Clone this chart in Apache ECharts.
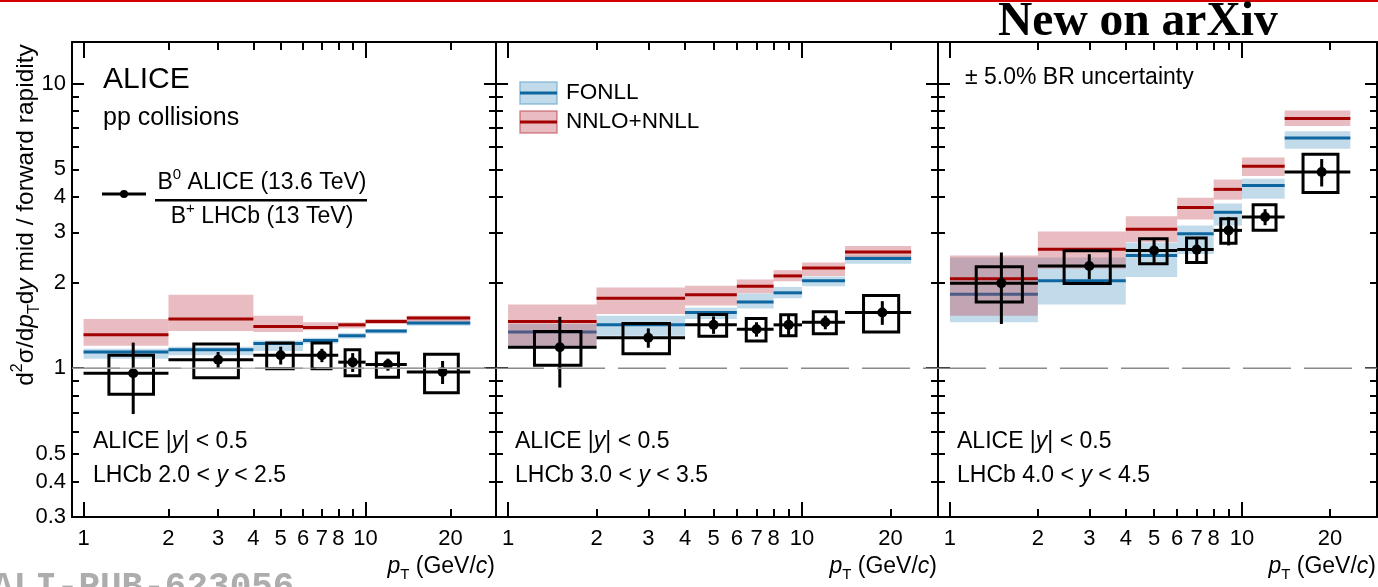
<!DOCTYPE html>
<html><head><meta charset="utf-8">
<script src="https://cdn.jsdelivr.net/npm/echarts@6/dist/echarts.min.js"></script>
<style>html,body{margin:0;padding:0;background:#fff}#c{width:1378px;height:587px}</style>
</head><body><div id="c"></div>
<script>
// ---- bins ----
const binLo = [1, 2, 4, 6, 8, 10, 14];
const binHi = [2, 4, 6, 8, 10, 14, 23.5];
const ptCenter = [1.5, 3, 5, 7, 9, 12, 18.75];

// ---- panel 1: LHCb 2.0 < y < 2.5 ----
const ratio1 = [0.96, 1.07, 1.11, 1.11, 1.05, 1.03, 0.97];
const stat1 = [0.27, 0.07, 0.08, 0.06, 0.08, 0.05, 0.09];
const syst1 = [0.15, 0.145, 0.115, 0.115, 0.11, 0.10, 0.15];
const fonll1 = [1.14, 1.16, 1.22, 1.25, 1.30, 1.35, 1.44];
const fonll1Lo = [1.08, 1.11, 1.15, 1.22, 1.27, 1.32, 1.41];
const fonll1Hi = [1.17, 1.19, 1.25, 1.28, 1.33, 1.37, 1.47];
const nnlo1 = [1.31, 1.49, 1.40, 1.39, 1.42, 1.46, 1.50];
const nnlo1Lo = [1.20, 1.35, 1.34, 1.36, 1.38, 1.43, 1.46];
const nnlo1Hi = [1.49, 1.81, 1.53, 1.45, 1.45, 1.49, 1.53];

// ---- panel 2: LHCb 3.0 < y < 3.5 ----
const ratio2 = [1.185, 1.28, 1.42, 1.37, 1.42, 1.45, 1.57];
const stat2 = [0.33, 0.10, 0.10, 0.08, 0.12, 0.08, 0.15];
const syst2 = [0.16, 0.155, 0.125, 0.125, 0.12, 0.13, 0.23];
const fonll2 = [1.34, 1.42, 1.57, 1.71, 1.84, 2.03, 2.43];
const fonll2Lo = [1.17, 1.30, 1.49, 1.62, 1.76, 1.94, 2.33];
const fonll2Hi = [1.43, 1.53, 1.63, 1.83, 1.93, 2.10, 2.49];
const nnlo2 = [1.46, 1.76, 1.81, 1.94, 2.11, 2.25, 2.56];
const nnlo2Lo = [1.20, 1.55, 1.66, 1.835, 2.02, 2.11, 2.46];
const nnlo2Hi = [1.675, 1.92, 1.95, 2.05, 2.21, 2.35, 2.69];

// ---- panel 3: LHCb 4.0 < y < 4.5 ----
const ratio3 = [1.99, 2.285, 2.59, 2.61, 3.05, 3.40, 4.89];
const stat3 = [0.56, 0.23, 0.28, 0.25, 0.35, 0.22, 0.54];
const syst3 = [0.28, 0.30, 0.26, 0.26, 0.30, 0.35, 0.75];
const fonll3 = [1.82, 2.03, 2.49, 2.97, 3.53, 4.38, 6.44];
const fonll3Lo = [1.45, 1.675, 2.09, 2.52, 3.17, 3.94, 5.9];
const fonll3Hi = [2.45, 2.45, 2.76, 3.17, 3.79, 4.63, 6.8];
const nnlo3 = [2.06, 2.62, 3.08, 3.67, 4.25, 5.12, 7.54];
const nnlo3Lo = [1.53, 2.24, 2.77, 3.33, 3.91, 4.73, 7.1];
const nnlo3Hi = [2.49, 3.02, 3.42, 3.97, 4.6, 5.5, 8.05];

// ---- ticks ----
const xTickMajor = [1, 10];
const xTickMinor = [2, 3, 4, 5, 6, 7, 8, 9, 20];
const xTickLabels = [1, 2, 3, 4, 5, 6, 7, 8, 10, 20];
const yTickMajor = [1, 10];
const yTickMinor = [0.3, 0.4, 0.5, 0.6, 0.7, 0.8, 0.9, 2, 3, 4, 5, 6, 7, 8, 9];
const yTickLabels = [0.3, 0.4, 0.5, 1, 2, 3, 4, 5, 10];
const refValue = 1;

const X_MIN = 0.91, X_MAX = 29, Y_MIN = 0.3, Y_MAX = 14;
const FONT = '"Liberation Sans", Arial, Helvetica, sans-serif';
const BLUE = '#0d66a0', RED = '#a30000';
const BLUE_BAND = 'rgba(115,172,210,0.44)', RED_BAND = 'rgba(190,70,80,0.36)';

const panels = [
  {ratio: ratio1, stat: stat1, syst: syst1, f: fonll1, fLo: fonll1Lo, fHi: fonll1Hi, n: nnlo1, nLo: nnlo1Lo, nHi: nnlo1Hi},
  {ratio: ratio2, stat: stat2, syst: syst2, f: fonll2, fLo: fonll2Lo, fHi: fonll2Hi, n: nnlo2, nLo: nnlo2Lo, nHi: nnlo2Hi},
  {ratio: ratio3, stat: stat3, syst: syst3, f: fonll3, fLo: fonll3Lo, fHi: fonll3Hi, n: nnlo3, nLo: nnlo3Lo, nHi: nnlo3Hi}
];

const grids = [
  {left: 72, top: 42, width: 424, height: 475},
  {left: 496, top: 42, width: 442, height: 475},
  {left: 938, top: 42, width: 439, height: 475}
];

const tickStyle = {color: '#000', width: 2};
const xAxis = [], yAxis = [];
grids.forEach((g, i) => {
  const bx = {type: 'log', logBase: 10, min: X_MIN, max: X_MAX, gridIndex: i, splitLine: {show: false}};
  const by = {type: 'log', logBase: 10, min: Y_MIN, max: Y_MAX, gridIndex: i, splitLine: {show: false}};
  const line = {show: true, onZero: false, lineStyle: {color: '#000', width: 2}};
  xAxis.push(Object.assign({}, bx, {position: 'bottom', axisLine: line,
    axisTick: {show: true, inside: true, length: 15, customValues: xTickMajor, lineStyle: tickStyle},
    axisLabel: {show: true, customValues: xTickLabels, formatter: v => String(Math.round(v)), color: '#000', fontSize: 22, fontFamily: FONT, margin: 11}}));
  xAxis.push(Object.assign({}, bx, {position: 'bottom', axisLine: {show: false},
    axisTick: {show: true, inside: true, length: 8, customValues: xTickMinor, lineStyle: tickStyle}, axisLabel: {show: false}}));
  xAxis.push(Object.assign({}, bx, {position: 'top', axisLine: line,
    axisTick: {show: true, inside: true, length: 16, customValues: xTickMajor, lineStyle: tickStyle}, axisLabel: {show: false}}));
  xAxis.push(Object.assign({}, bx, {position: 'top', axisLine: {show: false},
    axisTick: {show: true, inside: true, length: 8, customValues: xTickMinor, lineStyle: tickStyle}, axisLabel: {show: false}}));

  yAxis.push(Object.assign({}, by, {position: 'left', axisLine: line,
    axisTick: {show: true, inside: true, length: 12, customValues: yTickMajor, lineStyle: tickStyle},
    axisLabel: {show: i === 0, customValues: yTickLabels, formatter: v => String(+v.toPrecision(2)), color: '#000', fontSize: 22, fontFamily: FONT, margin: 6}}));
  yAxis.push(Object.assign({}, by, {position: 'left', axisLine: {show: false},
    axisTick: {show: true, inside: true, length: 7, customValues: yTickMinor, lineStyle: tickStyle}, axisLabel: {show: false}}));
  yAxis.push(Object.assign({}, by, {position: 'right', axisLine: line,
    axisTick: {show: true, inside: true, length: 12, customValues: yTickMajor, lineStyle: tickStyle}, axisLabel: {show: false}}));
  yAxis.push(Object.assign({}, by, {position: 'right', axisLine: {show: false},
    axisTick: {show: true, inside: true, length: 7, customValues: yTickMinor, lineStyle: tickStyle}, axisLabel: {show: false}}));
});

function bandRender(color) {
  return function (params, api) {
    const p0 = api.coord([api.value(0), api.value(3)]);
    const p1 = api.coord([api.value(1), api.value(2)]);
    return {type: 'rect', shape: {x: p0[0], y: p0[1], width: p1[0] - p0[0], height: p1[1] - p0[1]}, style: {fill: color}};
  };
}
function stepRender(color) {
  return function (params, api) {
    const p0 = api.coord([api.value(0), api.value(2)]);
    const p1 = api.coord([api.value(1), api.value(2)]);
    return {type: 'line', shape: {x1: p0[0], y1: p0[1], x2: p1[0], y2: p1[1]}, style: {stroke: color, lineWidth: 3}};
  };
}
function dataRender(params, api) {
  const c = api.value(0), lo = api.value(1), hi = api.value(2), v = api.value(3), st = api.value(4), sy = api.value(5);
  const bw = 0.27 * (hi - lo);
  const pL = api.coord([lo, v]), pR = api.coord([hi, v]), pC = api.coord([c, v]);
  const s1 = api.coord([c, v + st]), s2 = api.coord([c, v - st]);
  const b1 = api.coord([c - bw, v + sy]), b2 = api.coord([c + bw, v - sy]);
  return {type: 'group', children: [
    {type: 'rect', shape: {x: b1[0], y: b1[1], width: b2[0] - b1[0], height: b2[1] - b1[1]}, style: {fill: 'none', stroke: '#000', lineWidth: 3}},
    {type: 'line', shape: {x1: pL[0], y1: pL[1], x2: pR[0], y2: pR[1]}, style: {stroke: '#000', lineWidth: 3}},
    {type: 'line', shape: {x1: s1[0], y1: s1[1], x2: s2[0], y2: s2[1]}, style: {stroke: '#000', lineWidth: 3}},
    {type: 'circle', shape: {cx: pC[0], cy: pC[1], r: 5}, style: {fill: '#000'}}
  ]};
}

const series = [];
panels.forEach((p, i) => {
  const xi = 4 * i, yi = 4 * i;
  const common = {type: 'custom', xAxisIndex: xi, yAxisIndex: yi, silent: true, animation: false};
  const bandData = (lo, hi) => binLo.map((b, k) => [b, binHi[k], lo[k], hi[k]]);
  const stepData = (v) => binLo.map((b, k) => [b, binHi[k], v[k]]);
  series.push({type: 'line', xAxisIndex: xi, yAxisIndex: yi, silent: true, animation: false, symbol: 'none',
    data: [[X_MIN, refValue], [X_MAX, refValue]], lineStyle: {color: '#8a8a8a', width: 1.6, type: [48, 13]}});
  if (i === 0) {
    series.push({type: 'line', xAxisIndex: xi, yAxisIndex: yi, silent: true, animation: false, symbol: 'none',
      data: [[X_MIN, refValue], [X_MAX, refValue]], lineStyle: {color: '#a0a0a0', width: 1}});
  }
  series.push(Object.assign({}, common, {name: 'FONLL band', renderItem: bandRender(BLUE_BAND), encode: {x: [0, 1], y: [2, 3]}, data: bandData(p.fLo, p.fHi)}));
  series.push(Object.assign({}, common, {name: 'FONLL', renderItem: stepRender(BLUE), encode: {x: [0, 1], y: [2]}, data: stepData(p.f)}));
  series.push(Object.assign({}, common, {name: 'NNLO band', renderItem: bandRender(RED_BAND), encode: {x: [0, 1], y: [2, 3]}, data: bandData(p.nLo, p.nHi)}));
  series.push(Object.assign({}, common, {name: 'NNLO+NNLL', renderItem: stepRender(RED), encode: {x: [0, 1], y: [2]}, data: stepData(p.n)}));
  series.push(Object.assign({}, common, {name: 'data', renderItem: dataRender, encode: {x: [0, 1, 2], y: [3]},
    data: ptCenter.map((c, k) => [c, binLo[k], binHi[k], p.ratio[k], p.stat[k], p.syst[k]])}));
});

function txt(x, y, text, rich, opts) {
  return Object.assign({type: 'text', x: x, y: y, silent: true,
    style: Object.assign({text: text, rich: rich, fill: '#000', font: '23px ' + FONT, align: 'left', verticalAlign: 'middle'}, opts || {})});
}
function mkRich(fs, ss) {
  return {
    n: {fontSize: fs, fontFamily: FONT, color: '#000', lineHeight: fs + 8},
    i: {fontSize: fs, fontFamily: FONT, fontStyle: 'italic', color: '#000', lineHeight: fs + 8},
    sup: {fontSize: ss, fontFamily: FONT, color: '#000', verticalAlign: 'top', lineHeight: fs + 8},
    sub: {fontSize: ss, fontFamily: FONT, color: '#000', verticalAlign: 'bottom', lineHeight: fs + 8}
  };
}
const rich23 = mkRich(23, 15);
const richY = mkRich(24.5, 16);
const yRanges = ['2.0', '2.5', '3.0', '3.5', '4.0', '4.5'];
const panelTextX = [93, 515, 957];
const xTitleRight = [495, 937, 1376];

const graphic = [
  {type: 'rect', shape: {x: 0, y: 0, width: 1378, height: 2}, style: {fill: '#d40000'}, silent: true},
  {type: 'text', x: 998, y: 23, silent: true, style: {text: 'New on arXiv', font: 'bold 47.5px "Liberation Serif", "Times New Roman", serif', fill: '#000', verticalAlign: 'middle'}},
  {type: 'text', x: -8, y: 588, silent: true, style: {text: 'ALI-PUB-623056', font: 'bold 36px "Liberation Mono", "DejaVu Sans Mono", monospace', fill: '#adadad', verticalAlign: 'middle'}},
  txt(103, 80, 'ALICE', null, {font: '30px ' + FONT}),
  txt(103, 118, 'pp collisions', null, {font: '25px ' + FONT}),
  {type: 'line', shape: {x1: 102, y1: 194, x2: 146, y2: 194}, style: {stroke: '#000', lineWidth: 3}, silent: true},
  {type: 'circle', shape: {cx: 124, cy: 194, r: 4}, style: {fill: '#000'}, silent: true},
  txt(262, 183, '{n|B}{sup|0}{n| ALICE (13.6 TeV)}', rich23, {align: 'center'}),
  {type: 'rect', shape: {x: 155, y: 199, width: 212, height: 2.5}, style: {fill: '#000'}, silent: true},
  txt(262, 217, '{n|B}{sup|+}{n| LHCb (13 TeV)}', rich23, {align: 'center'}),
  // legend for models
  {type: 'rect', shape: {x: 520, y: 82, width: 37, height: 22}, style: {fill: BLUE_BAND, stroke: 'rgba(115,172,210,0.75)', lineWidth: 1.5}, silent: true},
  {type: 'line', shape: {x1: 520, y1: 93, x2: 557, y2: 93}, style: {stroke: BLUE, lineWidth: 3}, silent: true},
  txt(566, 93, 'FONLL', null, {font: '22.5px ' + FONT}),
  {type: 'rect', shape: {x: 520, y: 111, width: 37, height: 22}, style: {fill: RED_BAND, stroke: 'rgba(190,70,80,0.6)', lineWidth: 1.5}, silent: true},
  {type: 'line', shape: {x1: 520, y1: 122, x2: 557, y2: 122}, style: {stroke: RED, lineWidth: 3}, silent: true},
  txt(566, 122, 'NNLO+NNLL', null, {font: '22.5px ' + FONT}),
  txt(965, 78, '\u00B1 5.0% BR uncertainty', null, {font: '23px ' + FONT}),
  // y title
  {type: 'text', x: 26, y: 215, rotation: Math.PI / 2, silent: true,
    style: {text: '{n|d}{sup|2}{n|\u03C3/d}{i|p}{sub|T}{n|d}{i|y}{n| mid / forward rapidity}', rich: richY, align: 'center', verticalAlign: 'middle', font: '24.5px ' + FONT}}
];
for (let i = 0; i < 3; i++) {
  graphic.push(txt(panelTextX[i], 442, '{n|ALICE |}{i|y}{n|| < 0.5}', rich23));
  graphic.push(txt(panelTextX[i], 476, '{n|LHCb ' + yRanges[2 * i] + ' < }{i|y}{n| < ' + yRanges[2 * i + 1] + '}', rich23));
  graphic.push(txt(xTitleRight[i], 567, '{i|p}{sub|T}{n| (GeV/}{i|c}{n|)}', rich23, {align: 'right'}));
}

const chart = echarts.init(document.getElementById('c'), null, {renderer: 'canvas'});
chart.setOption({
  animation: false,
  backgroundColor: '#fff',
  grid: grids,
  xAxis: xAxis,
  yAxis: yAxis,
  series: series,
  graphic: graphic
});
</script></body></html>
